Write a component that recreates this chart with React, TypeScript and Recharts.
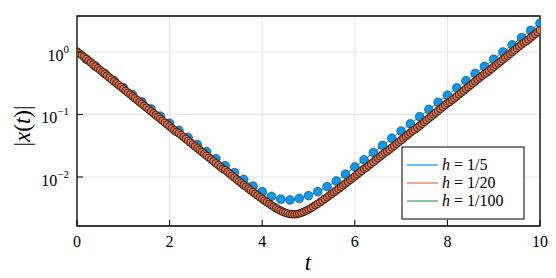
import React from "react";
import { ComposedChart, Line, XAxis, YAxis, CartesianGrid, ReferenceArea } from "recharts";

const FONT = "'Liberation Serif', 'DejaVu Serif', serif";
const BLUE = "#009AFA";
const RED = "#E26F46";
const GREEN = "#3EA44E";

// log10 |x(t)|, h = 1/5 (t = 0, 0.2, ..., 10)
const blueLog = [
  0, -0.114, -0.228, -0.342, -0.456, -0.57, -0.684, -0.798, -0.912, -1.026,
  -1.14, -1.254, -1.368, -1.482, -1.596, -1.708, -1.82, -1.93, -2.04, -2.145,
  -2.235, -2.31, -2.355, -2.368, -2.343, -2.298, -2.235, -2.155, -2.064, -1.955,
  -1.84, -1.725, -1.61, -1.495, -1.38, -1.265, -1.15, -1.035, -0.92, -0.805,
  -0.69, -0.575, -0.46, -0.345, -0.23, -0.115, 0, 0.115, 0.23, 0.345, 0.46,
];

// h = 1/20 (t = 0, 0.05, ..., 10)
const redLog = [
  0, -0.02, -0.05, -0.08, -0.11, -0.14, -0.17, -0.2, -0.23, -0.26, -0.29, -0.32, -0.35, -0.38, -0.41, -0.44, -0.47, -0.5, -0.53, -0.56,
  -0.59, -0.62, -0.65, -0.68, -0.71, -0.74, -0.77, -0.8, -0.83, -0.86, -0.89, -0.92, -0.95, -0.98, -1.01, -1.04, -1.07, -1.1, -1.13, -1.16,
  -1.19, -1.22, -1.25, -1.28, -1.3, -1.33, -1.36, -1.39, -1.42, -1.45, -1.48, -1.51, -1.54, -1.57, -1.6, -1.63, -1.66, -1.69, -1.72, -1.75,
  -1.78, -1.81, -1.84, -1.87, -1.89, -1.92, -1.95, -1.98, -2.01, -2.04, -2.07, -2.1, -2.13, -2.155, -2.184, -2.212, -2.24, -2.268, -2.295, -2.323,
  -2.35, -2.376, -2.402, -2.428, -2.453, -2.476, -2.499, -2.521, -2.54, -2.558, -2.573, -2.585, -2.593, -2.597, -2.597, -2.593, -2.584, -2.572, -2.557, -2.539,
  -2.52, -2.499, -2.476, -2.452, -2.428, -2.403, -2.377, -2.351, -2.325, -2.298, -2.271, -2.243, -2.216, -2.188, -2.16, -2.132, -2.104, -2.075, -2.047, -2.018,
  -1.99, -1.96, -1.93, -1.9, -1.87, -1.85, -1.82, -1.79, -1.76, -1.73, -1.7, -1.67, -1.64, -1.61, -1.59, -1.56, -1.53, -1.5, -1.47, -1.44,
  -1.41, -1.38, -1.35, -1.32, -1.29, -1.26, -1.24, -1.21, -1.18, -1.15, -1.12, -1.09, -1.06, -1.03, -1.0, -0.97, -0.94, -0.91, -0.88, -0.85,
  -0.82, -0.8, -0.77, -0.74, -0.71, -0.68, -0.65, -0.62, -0.59, -0.56, -0.53, -0.5, -0.47, -0.44, -0.41, -0.38, -0.35, -0.33, -0.3, -0.27,
  -0.24, -0.21, -0.18, -0.15, -0.12, -0.09, -0.06, -0.03, 0.0, 0.03, 0.06, 0.09, 0.12, 0.15, 0.17, 0.2, 0.23, 0.26, 0.29, 0.32,
  0.35,
];

// h = 1/100, sampled every 0.1 (line only)
const greenLog = [
  0, -0.05, -0.11, -0.17, -0.23, -0.29, -0.35, -0.41, -0.47, -0.53,
  -0.59, -0.65, -0.71, -0.77, -0.83, -0.89, -0.95, -1.01, -1.07, -1.13,
  -1.19, -1.25, -1.3, -1.36, -1.42, -1.48, -1.54, -1.6, -1.66, -1.72,
  -1.78, -1.84, -1.89, -1.95, -2.01, -2.07, -2.13, -2.184, -2.24, -2.3,
  -2.36, -2.415, -2.47, -2.525, -2.575, -2.615, -2.64, -2.645, -2.63, -2.6,
  -2.555, -2.505, -2.45, -2.39, -2.335, -2.275, -2.216, -2.16, -2.104, -2.047,
  -1.99, -1.93, -1.87, -1.82, -1.76, -1.7, -1.64, -1.59, -1.53, -1.47,
  -1.41, -1.35, -1.29, -1.24, -1.18, -1.12, -1.06, -1.0, -0.94, -0.88,
  -0.82, -0.77, -0.71, -0.65, -0.59, -0.53, -0.47, -0.41, -0.35, -0.3,
  -0.24, -0.18, -0.12, -0.06, 0.0, 0.06, 0.12, 0.17, 0.23, 0.29,
  0.35,
];

const xTicks = [0, 2, 4, 6, 8, 10];
const yTicks = [0.01, 0.1, 1];
const Y_MIN = 0.001644;
const Y_MAX = 3.767;

const toRows = (logs: number[], h: number) =>
  logs.map((v, i) => ({ t: Math.round(i * h * 1000) / 1000, x: Math.pow(10, v) }));

const blueData = toRows(blueLog, 0.2);
const redData = toRows(redLog, 0.05);
const greenData = toRows(greenLog, 0.1);

function XTick({ x, y, payload }: any) {
  return (
    <g>
      <line x1={x} x2={x} y1={y} y2={y - 6} stroke="#000" strokeWidth={1} />
      <text x={x} y={y + 21} textAnchor="middle" fontFamily={FONT} fontSize={16} fill="#000">
        {payload.value}
      </text>
    </g>
  );
}

function YTick({ x, y, payload }: any) {
  const e = Math.round(Math.log10(payload.value));
  return (
    <g>
      <line x1={x} x2={x + 6} y1={y} y2={y} stroke="#000" strokeWidth={1} />
      <text x={x - 8} y={y + 9} textAnchor="end" fontFamily={FONT} fontSize={16} fill="#000">
        10
        <tspan dy={-8} fontSize={11}>{e === 0 ? "0" : "\u2212" + -e}</tspan>
      </text>
    </g>
  );
}

const legendItems = [
  { color: BLUE, label: "1/5" },
  { color: RED, label: "1/20" },
  { color: GREEN, label: "1/100" },
];

export default function App() {
  return (
    <div style={{ width: 540, height: 270 }}>
      <ComposedChart width={540} height={270} margin={{ top: 8, right: 8, bottom: 8, left: 0 }}>
        <CartesianGrid stroke="#e6e6e6" strokeWidth={1} />
        <XAxis
          type="number"
          dataKey="t"
          domain={[0, 10]}
          ticks={xTicks}
          height={44}
          tickSize={0}
          tickMargin={0}
          axisLine={false}
          tick={<XTick />}
          allowDataOverflow
        />
        <YAxis
          type="number"
          dataKey="x"
          scale="log"
          domain={[Y_MIN, Y_MAX]}
          ticks={yTicks}
          width={69}
          tickSize={0}
          tickMargin={0}
          axisLine={false}
          tick={<YTick />}
          allowDataOverflow
        />
        <ReferenceArea x1={0} x2={10} y1={Y_MIN} y2={Y_MAX} fill="none" stroke="#000" strokeWidth={1.3} ifOverflow="visible" />
        <Line
          data={blueData}
          dataKey="x"
          stroke={BLUE}
          strokeWidth={1}
          dot={{ r: 4.4, fill: BLUE, stroke: "#222", strokeWidth: 0.5 }}
          activeDot={false}
          isAnimationActive={false}
        />
        <Line
          data={redData}
          dataKey="x"
          stroke={RED}
          strokeWidth={1}
          dot={{ r: 3.8, fill: RED, stroke: "#2a160c", strokeWidth: 0.9 }}
          activeDot={false}
          isAnimationActive={false}
        />
        <Line
          data={greenData}
          dataKey="x"
          stroke={GREEN}
          strokeWidth={1.5}
          dot={false}
          activeDot={false}
          isAnimationActive={false}
        />
        <text x={300} y={262} textAnchor="middle" fontFamily={FONT} fontSize={23} fontStyle="italic" fill="#000">
          t
        </text>
        <text
          x={14}
          y={118}
          transform="rotate(-90 14 118)"
          textAnchor="middle"
          dominantBaseline="central"
          fontFamily={FONT}
          fontSize={23}
          fill="#000"
        >
          |<tspan fontStyle="italic">x</tspan>(<tspan fontStyle="italic">t</tspan>)|
        </text>
        <g>
          <rect x={394} y={139} width={122} height={72} fill="#fff" stroke="#000" strokeWidth={1} />
          {legendItems.map((it, i) => (
            <g key={it.label}>
              <line x1={399} x2={430} y1={157 + i * 18} y2={157 + i * 18} stroke={it.color} strokeWidth={1.2} />
              <text x={434} y={162 + i * 18} fontFamily={FONT} fontSize={16} fill="#000">
                <tspan fontStyle="italic">h</tspan> = {it.label}
              </text>
            </g>
          ))}
        </g>
      </ComposedChart>
    </div>
  );
}
